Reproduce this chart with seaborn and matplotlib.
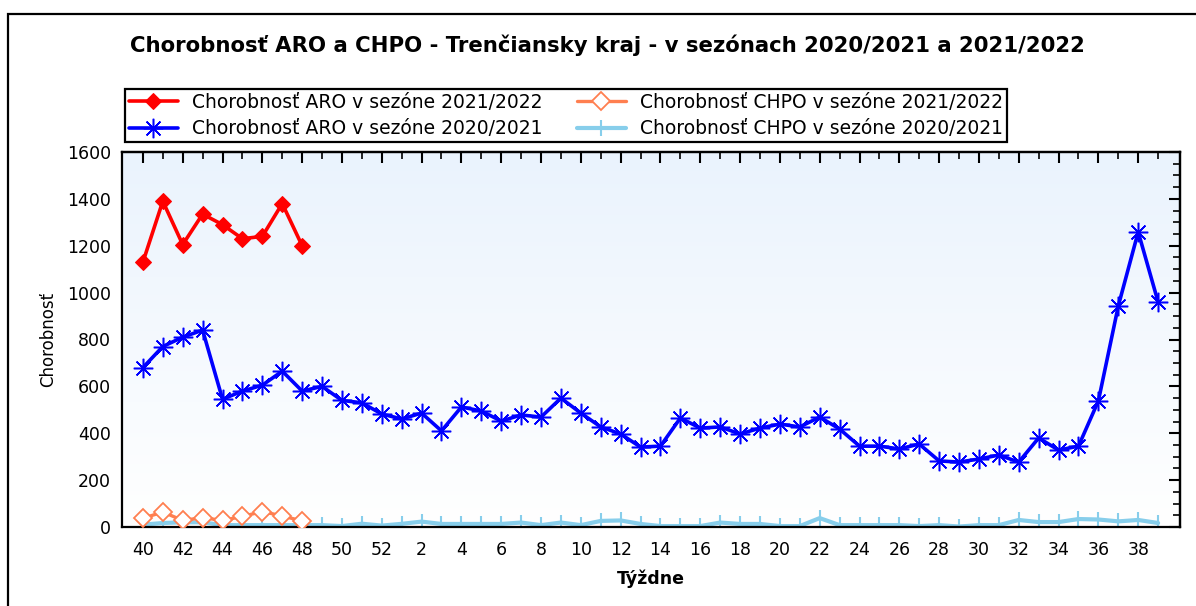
import numpy as np
import pandas as pd
import matplotlib
matplotlib.use("Agg")
import matplotlib.pyplot as plt
import seaborn as sns
from matplotlib.patches import Rectangle
from matplotlib.colors import LinearSegmentedColormap
from matplotlib.ticker import MultipleLocator

# poradie tyzdnov na osi x (sezona zacina 40. tyzdnom)
tyzdne = list(range(40, 53)) + list(range(1, 40))

# sezona 2021/2022 - zatial po 48. tyzden
tyzdne_2122 = [40, 41, 42, 43, 44, 45, 46, 47, 48]
aro_2122 = [1130, 1390, 1205, 1335, 1290, 1230, 1240, 1380, 1200]
chpo_2122 = [37, 64, 28, 40, 28, 45, 66, 47, 26]

# sezona 2020/2021 - ma aj 53. tyzden
tyzdne_2021 = list(range(40, 54)) + list(range(1, 40))
aro_2021 = [680, 770, 810, 840, 545, 580, 605, 665, 580, 600, 540, 530, 482, 427,
            495, 486, 410, 512, 495, 452, 478, 469, 550, 486, 427, 397, 341, 345,
            465, 422, 427, 397, 422, 439, 427, 469, 418, 345, 345, 333, 354, 282,
            277, 290, 307, 277, 380, 328, 345, 538, 943, 1259, 960]
chpo_2021 = [10, 17, 20, 20, 8, 8, 8, 8, 8, 8, 4, 14, 6, 10,
             17, 23, 13, 13, 13, 13, 19, 8, 19, 8, 26, 28, 13, 4,
             4, 4, 19, 13, 13, 4, 4, 38, 8, 8, 8, 8, 4, 8,
             2, 8, 8, 30, 21, 21, 34, 32, 24, 30, 17]

nazvy = ["Chorobnosť ARO v sezóne 2021/2022", "Chorobnosť ARO v sezóne 2020/2021",
         "Chorobnosť CHPO v sezóne 2021/2022", "Chorobnosť CHPO v sezóne 2020/2021"]


def poradie(t):
    # tyzden 53 padne na rovnake miesto ako tyzden 1
    return t - 40 if t >= 40 else t + 12


sns.set_style("white")
plt.rcParams["font.family"] = ["DejaVu Sans"]
plt.rcParams.update({"text.color": "black", "axes.labelcolor": "black",
                     "xtick.color": "black", "ytick.color": "black"})

fig = plt.figure(figsize=(11.96, 6.06), dpi=100)
ax = fig.add_axes([122 / 1196, 1 - 527 / 606, (1180 - 122) / 1196, (527 - 152) / 606])

# jemny prechod pozadia
cmap = LinearSegmentedColormap.from_list("pozadie", ["#ffffff", "#eaf3fd"])
ax.imshow(np.linspace(0, 1, 256).reshape(-1, 1), cmap=cmap, origin="lower",
          extent=[0, 1, 0, 1], transform=ax.transAxes, aspect="auto", zorder=0)

x_2122 = [poradie(t) for t in tyzdne_2122]
x_2021 = [poradie(t) for t in tyzdne_2021]

sns.lineplot(x=x_2122, y=aro_2122, ax=ax, sort=False, color="#ff0000", lw=2.6,
             marker="D", markersize=8, markeredgecolor="#ff0000", label=nazvy[0], zorder=5)
sns.lineplot(x=x_2021, y=aro_2021, ax=ax, sort=False, color="#0000ff", lw=2.6,
             marker=(8, 2, 0), markersize=14, markeredgewidth=1.1, markeredgecolor="#0000ff",
             label=nazvy[1], zorder=4)
sns.lineplot(x=x_2122, y=chpo_2122, ax=ax, sort=False, color="#ff7f50", lw=2.4,
             marker="D", markersize=9.5, markerfacecolor="white", markeredgecolor="#ff7f50",
             markeredgewidth=1.3, label=nazvy[2], zorder=3)
sns.lineplot(x=x_2021, y=chpo_2021, ax=ax, sort=False, color="#87ceeb", lw=3,
             marker="|", markersize=11, markeredgewidth=1.5, markeredgecolor="#87ceeb",
             label=nazvy[3], zorder=2)

ax.set_xlim(-1.05, 52.1)
ax.set_ylim(0, 1600)
ax.set_xticks(range(0, len(tyzdne), 2), labels=[str(t) for t in tyzdne[::2]])
ax.set_xticks(range(len(tyzdne)), minor=True)
ax.yaxis.set_major_locator(MultipleLocator(200))
ax.yaxis.set_minor_locator(MultipleLocator(50))

ax.tick_params(axis="x", which="major", direction="out", length=5, width=1.5,
               labelsize=12.5, pad=5)
ax.tick_params(axis="x", which="minor", direction="out", length=4, width=1.5)
ax.tick_params(axis="y", which="major", direction="inout", length=10, width=1.5,
               labelsize=12.5, pad=3)
ax.tick_params(axis="y", which="minor", direction="inout", length=6, width=1.2)

# horna a prava os - kratke ciarky dnu
top = ax.secondary_xaxis("top")
top.set_xticks(range(0, len(tyzdne), 2), labels=[])
top.set_xticks(range(len(tyzdne)), minor=True)
top.tick_params(which="major", direction="in", length=8, width=1.5)
top.tick_params(which="minor", direction="in", length=5, width=1.2)
right = ax.secondary_yaxis("right")
right.yaxis.set_major_locator(MultipleLocator(200))
right.yaxis.set_minor_locator(MultipleLocator(50))
right.tick_params(which="major", direction="in", length=8, width=1.5, labelright=False)
right.tick_params(which="minor", direction="in", length=5, width=1.2)

for s in list(ax.spines.values()) + [top.spines["top"], right.spines["right"]]:
    s.set_color("black")
    s.set_linewidth(1.6)

ax.set_xlabel("Týždne", fontsize=12.5, fontweight="bold", labelpad=8)
ax.set_ylabel("Chorobnosť", fontsize=12, labelpad=7)

handles, labels = ax.get_legend_handles_labels()
ax.legend(handles, labels, ncol=2, loc="upper left", bbox_to_anchor=(125 / 1196, 1 - 89 / 606),
          bbox_transform=fig.transFigure, borderaxespad=0, fontsize=13.5, frameon=True,
          fancybox=False, edgecolor="black", framealpha=1, handlelength=2.6, handletextpad=0.8,
          columnspacing=1.8, labelspacing=0.4, borderpad=0.2)
ax.get_legend().get_frame().set_linewidth(1.6)

fig.text(607.5 / 1196, 1 - 45 / 606,
         "Chorobnosť ARO a CHPO - Trenčiansky kraj - v sezónach 2020/2021 a 2021/2022",
         ha="center", va="center", fontsize=15.3, fontweight="bold")

# ramcek okolo celeho obrazku
fig.patches.append(Rectangle((8 / 1196, -0.05), 1.1, 1 - 14 / 606 + 0.05, transform=fig.transFigure,
                             fill=False, edgecolor="black", linewidth=1.6))

fig.savefig("out.png", dpi=100)
